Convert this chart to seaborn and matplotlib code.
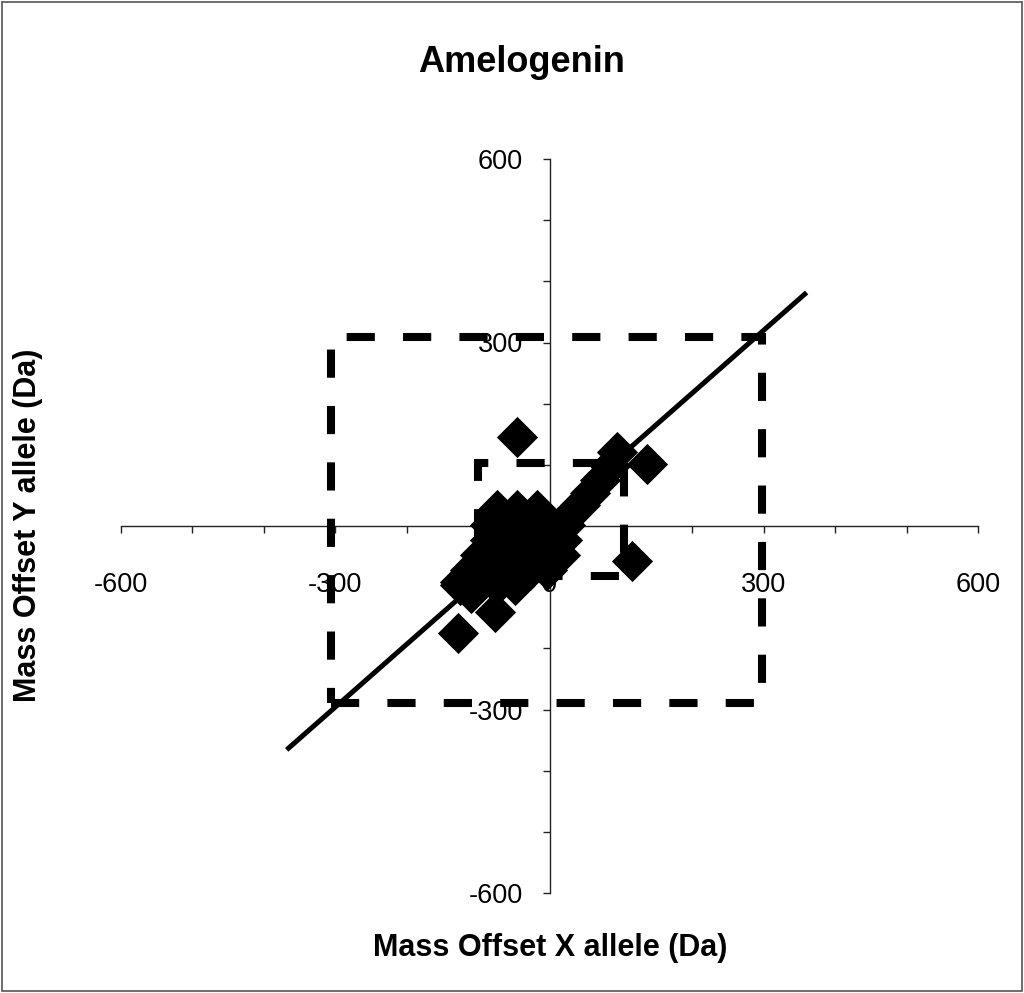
import numpy as np
import pandas as pd
import matplotlib
matplotlib.use("Agg")
import matplotlib.pyplot as plt
import seaborn as sns
from matplotlib.patches import Rectangle

# ---- data ----
x_offsets = [-74, -46, -18,
             -83, -55, -27, 1, 22,
             -83, -62, -34, -6, 18,
             -97, -69, -41, -13, 15,
             -111, -83, -55, -27, -3,
             -125, -100, -74, -48,
             -125, -110,
             29, 43, 57, 71, 85, 94,
             -46, 136, 115, -76, -128]
y_offsets = [26, 26, 26,
             2, 2, 2, 2, 2,
             -23, -23, -23, -23, -23,
             -47, -47, -47, -47, -47,
             -72, -72, -72, -72, -72,
             -96, -96, -96, -96,
             -92, -110,
             18, 34, 54, 75, 98, 121,
             146, 102, -58, -140, -175]

trend_slope = 1.027
trend_intercept = 12
trend_x_span = [-368, 360]

outer_box = [-306, -290, 297, 309]   # x0, y0, x1, y1
inner_box = [-100, -82, 104, 103]

axis_limits = [-600, 600]
labelled_ticks = [-600, -300, 0, 300, 600]
title_text = "Amelogenin"
x_label = "Mass Offset X allele (Da)"
y_label = "Mass Offset Y allele (Da)"

# ---- style ----
sns.set_style("white")
plt.rcParams["font.family"] = ["Liberation Sans", "DejaVu Sans"]
plt.rcParams["text.color"] = "black"
plt.rcParams["xtick.color"] = "black"
plt.rcParams["ytick.color"] = "black"

W, H = 1024, 993
fig = plt.figure(figsize=(W / 100, H / 100), dpi=100)
ax = fig.add_axes([121 / W, 1 - 893 / H, 857 / W, 734 / H])

df = pd.DataFrame({"x": x_offsets, "y": y_offsets})
sns.scatterplot(data=df, x="x", y="y", marker="D", s=440, color="black",
                edgecolor="black", linewidth=0, ax=ax, zorder=4, legend=False)

tx = np.array(trend_x_span, dtype=float)
ax.plot(tx, trend_slope * tx + trend_intercept, color="black", lw=3.6,
        solid_capstyle="butt", zorder=5)

for box in (outer_box, inner_box):
    x0, y0, x1, y1 = box
    ax.add_patch(Rectangle((x0, y0), x1 - x0, y1 - y0, fill=False,
                           edgecolor="black", lw=5.8,
                           linestyle=(0, (3.5, 3.5)), zorder=3))

ax.set_xlim(axis_limits)
ax.set_ylim(axis_limits)

ax.spines["left"].set_position("zero")
ax.spines["bottom"].set_position("zero")
ax.spines["top"].set_visible(False)
ax.spines["right"].set_visible(False)
for s in ("left", "bottom"):
    ax.spines[s].set_color("#222222")
    ax.spines[s].set_linewidth(1.0)

ticks = np.arange(axis_limits[0], axis_limits[1] + 1, 100)
labels = [str(int(v)) if int(v) in labelled_ticks else "" for v in ticks]
ax.set_xticks(ticks)
ax.set_xticklabels(labels)
ax.set_yticks(ticks)
ax.set_yticklabels(labels)
ax.tick_params(axis="x", direction="out", length=5, width=1, color="#222222",
               labelsize=19.5, pad=28, bottom=True, labelcolor="black")
ax.tick_params(axis="y", direction="out", length=5, width=1, color="#222222",
               labelsize=19.5, pad=14, left=True, labelcolor="black")
ax.set_xlabel("")
ax.set_ylabel("")
ax.patch.set_alpha(0)

fig.text(522 / W, 1 - 62 / H, title_text, ha="center", va="center",
         fontsize=26, fontweight="bold", color="black")
fig.text(550 / W, 1 - 948 / H, x_label, ha="center", va="center",
         fontsize=22, fontweight="bold", color="black")
fig.text(28 / W, 1 - 525 / H, y_label, ha="center", va="center",
         fontsize=22, fontweight="bold", rotation=90, color="black")

fig.patches.append(Rectangle((0.002, 0.002), 0.996, 0.996, fill=False,
                             edgecolor="#555555", lw=1.2,
                             transform=fig.transFigure, figure=fig))

fig.savefig("out.png", dpi=100)
